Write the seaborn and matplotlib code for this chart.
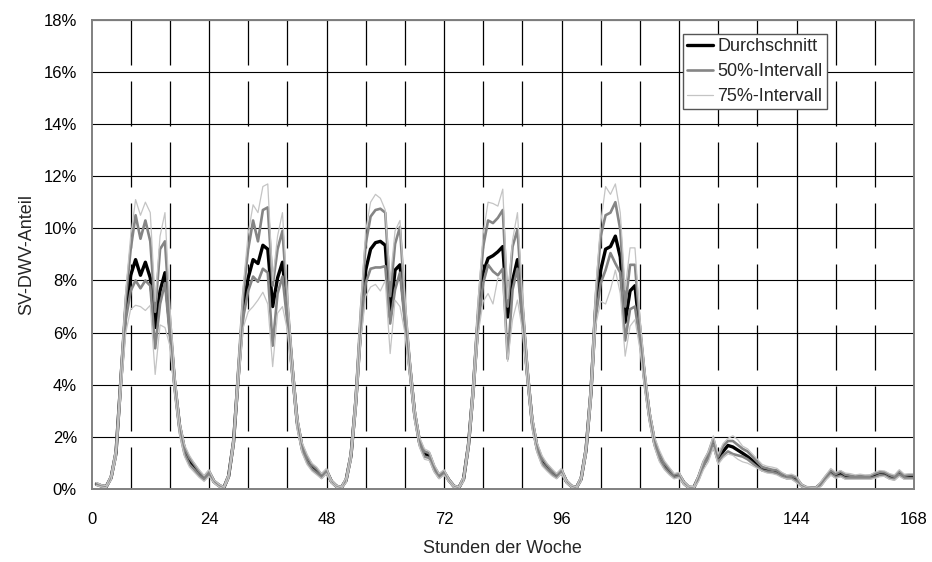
import pandas as pd
import matplotlib.pyplot as plt
import seaborn as sns

sns.set_style("white")
plt.rcParams["font.family"] = ["Liberation Sans", "DejaVu Sans"]

# hour of the week 1..168
hours = list(range(1, 169))

# mean share in % (one row per day, Mo..So)
mean = [
    0.20, 0.13, 0.10, 0.45, 1.4, 4.2, 6.9, 8.2, 8.8, 8.2, 8.7, 8.1, 6.2, 7.6, 8.3, 6.2, 4.0, 2.4, 1.5, 1.1, 0.85, 0.60, 0.42, 0.65,
    0.30, 0.15, 0.05, 0.50, 1.8, 4.4, 7.0, 8.1, 8.8, 8.65, 9.35, 9.2, 7.0, 8.1, 8.7, 6.8, 4.6, 2.6, 1.6, 1.15, 0.85, 0.70, 0.50, 0.70,
    0.30, 0.12, 0.05, 0.35, 1.3, 3.4, 6.3, 8.4, 9.2, 9.45, 9.5, 9.35, 6.6, 8.4, 8.6, 6.7, 4.7, 2.9, 1.8, 1.35, 1.3, 0.80, 0.50, 0.65,
    0.35, 0.12, 0.05, 0.40, 1.7, 3.9, 6.6, 8.3, 8.85, 8.95, 9.1, 9.3, 6.6, 8.0, 8.8, 6.8, 4.5, 2.6, 1.6, 1.1, 0.85, 0.65, 0.50, 0.70,
    0.30, 0.12, 0.05, 0.40, 1.5, 3.7, 7.0, 8.4, 9.2, 9.3, 9.7, 8.9, 6.4, 7.6, 7.8, 6.0, 4.2, 2.8, 1.8, 1.25, 0.90, 0.70, 0.50, 0.55,
    0.25, 0.07, 0.06, 0.45, 0.95, 1.3, 1.75, 1.15, 1.45, 1.68, 1.62, 1.5, 1.38, 1.25, 1.1, 0.93, 0.8, 0.74, 0.7, 0.66, 0.55, 0.47, 0.47, 0.35,
    0.15, 0.06, 0.05, 0.05, 0.2, 0.45, 0.65, 0.52, 0.6, 0.47, 0.47, 0.47, 0.47, 0.47, 0.47, 0.52, 0.6, 0.6, 0.48, 0.42, 0.63, 0.47, 0.47, 0.47,
]

p50_hi = [
    0.23, 0.15, 0.12, 0.50, 1.5, 4.4, 7.3, 9.2, 10.5, 9.6, 10.3, 9.5, 6.8, 9.2, 9.5, 6.6, 4.2, 2.5, 1.6, 1.2, 0.95, 0.68, 0.48, 0.70,
    0.33, 0.18, 0.07, 0.55, 1.9, 4.7, 7.5, 9.2, 10.3, 9.5, 10.7, 10.8, 7.8, 9.2, 9.9, 7.2, 4.8, 2.7, 1.7, 1.25, 0.95, 0.78, 0.56, 0.75,
    0.33, 0.14, 0.07, 0.40, 1.4, 3.6, 6.8, 9.4, 10.45, 10.7, 10.75, 10.6, 7.4, 9.4, 10.05, 7.1, 4.9, 3.0, 1.9, 1.45, 1.38, 0.88, 0.56, 0.70,
    0.38, 0.14, 0.07, 0.45, 1.8, 4.1, 7.0, 9.3, 10.3, 10.2, 10.4, 10.7, 7.0, 9.3, 9.95, 7.2, 4.7, 2.7, 1.7, 1.2, 0.95, 0.72, 0.56, 0.75,
    0.33, 0.14, 0.07, 0.45, 1.6, 3.9, 7.4, 9.7, 10.5, 10.6, 11.0, 9.95, 7.0, 8.6, 8.6, 6.3, 4.4, 2.9, 1.9, 1.35, 1.0, 0.78, 0.56, 0.60,
    0.28, 0.10, 0.08, 0.50, 1.05, 1.4, 1.95, 1.25, 1.65, 1.85, 1.85, 1.7, 1.55, 1.45, 1.25, 1.05, 0.85, 0.8, 0.75, 0.72, 0.6, 0.52, 0.52, 0.45,
    0.18, 0.08, 0.07, 0.07, 0.25, 0.5, 0.72, 0.58, 0.68, 0.55, 0.52, 0.5, 0.52, 0.5, 0.52, 0.6, 0.66, 0.65, 0.55, 0.48, 0.7, 0.52, 0.55, 0.55,
]

p50_lo = [
    0.17, 0.11, 0.08, 0.40, 1.3, 4.0, 6.5, 7.6, 8.0, 7.7, 8.0, 7.8, 5.4, 7.1, 7.9, 5.9, 3.8, 2.2, 1.35, 0.95, 0.75, 0.52, 0.36, 0.58,
    0.27, 0.12, 0.04, 0.45, 1.7, 4.2, 6.6, 7.6, 8.15, 7.95, 8.45, 8.3, 5.5, 7.5, 8.15, 6.4, 4.4, 2.45, 1.5, 1.05, 0.78, 0.62, 0.44, 0.64,
    0.27, 0.10, 0.04, 0.30, 1.2, 3.2, 6.0, 7.9, 8.45, 8.5, 8.5, 8.55, 6.35, 7.65, 8.3, 6.4, 4.5, 2.75, 1.7, 1.25, 1.2, 0.72, 0.44, 0.60,
    0.32, 0.10, 0.04, 0.35, 1.6, 3.7, 6.3, 7.9, 8.6, 8.35, 8.2, 8.45, 5.0, 7.65, 8.45, 6.4, 4.3, 2.45, 1.5, 1.0, 0.78, 0.58, 0.44, 0.64,
    0.27, 0.10, 0.04, 0.35, 1.4, 3.5, 6.6, 7.9, 8.4, 9.05, 8.65, 8.3, 5.7, 6.9, 7.0, 5.7, 4.0, 2.65, 1.7, 1.15, 0.82, 0.62, 0.44, 0.50,
    0.20, 0.05, 0.04, 0.40, 0.9, 1.2, 1.7, 1.05, 1.3, 1.45, 1.35, 1.3, 1.25, 1.15, 1.0, 0.85, 0.72, 0.68, 0.66, 0.6, 0.5, 0.42, 0.42, 0.30,
    0.12, 0.04, 0.03, 0.03, 0.15, 0.4, 0.58, 0.46, 0.52, 0.42, 0.42, 0.42, 0.42, 0.42, 0.42, 0.46, 0.54, 0.52, 0.42, 0.38, 0.56, 0.42, 0.42, 0.42,
]

p75_hi = [
    0.26, 0.17, 0.14, 0.55, 1.6, 4.6, 7.6, 9.7, 11.1, 10.5, 11.0, 10.6, 7.2, 9.7, 10.6, 7.0, 4.4, 2.6, 1.7, 1.3, 1.0, 0.75, 0.52, 0.75,
    0.36, 0.20, 0.09, 0.60, 2.0, 4.9, 7.8, 9.8, 10.9, 10.6, 11.6, 11.7, 8.0, 9.7, 10.6, 7.5, 5.0, 2.85, 1.8, 1.35, 1.0, 0.85, 0.60, 0.80,
    0.36, 0.16, 0.09, 0.45, 1.5, 3.8, 7.1, 9.9, 11.0, 11.3, 11.15, 10.7, 8.0, 9.9, 10.3, 7.4, 5.1, 3.15, 2.0, 1.55, 1.45, 0.95, 0.60, 0.75,
    0.40, 0.16, 0.09, 0.50, 1.9, 4.3, 7.3, 9.8, 11.0, 10.95, 10.85, 11.5, 7.3, 9.55, 10.6, 7.5, 4.9, 2.85, 1.8, 1.3, 1.0, 0.80, 0.60, 0.80,
    0.36, 0.16, 0.09, 0.50, 1.7, 4.1, 7.7, 10.2, 11.6, 11.3, 11.7, 10.6, 7.65, 9.25, 9.25, 6.6, 4.6, 3.05, 2.0, 1.5, 1.1, 0.85, 0.60, 0.65,
    0.30, 0.12, 0.10, 0.55, 1.1, 1.45, 2.05, 1.35, 1.75, 1.95, 2.05, 1.9, 1.65, 1.55, 1.35, 1.15, 0.95, 0.88, 0.85, 0.8, 0.65, 0.55, 0.58, 0.50,
    0.20, 0.10, 0.08, 0.08, 0.3, 0.55, 0.8, 0.65, 0.72, 0.62, 0.6, 0.55, 0.58, 0.55, 0.55, 0.65, 0.72, 0.7, 0.6, 0.55, 0.75, 0.58, 0.6, 0.60,
]

p75_lo = [
    0.15, 0.09, 0.06, 0.35, 1.2, 3.7, 6.0, 6.9, 7.05, 7.0, 6.85, 7.05, 4.4, 6.3, 6.2, 5.5, 3.6, 2.1, 1.25, 0.85, 0.65, 0.45, 0.30, 0.50,
    0.24, 0.10, 0.02, 0.40, 1.6, 4.0, 6.2, 6.8, 7.0, 7.25, 7.55, 7.1, 4.7, 6.75, 7.0, 6.1, 4.2, 2.3, 1.4, 0.95, 0.70, 0.55, 0.40, 0.60,
    0.24, 0.08, 0.02, 0.25, 1.1, 3.0, 5.7, 7.4, 7.75, 7.85, 7.6, 8.0, 5.2, 7.25, 7.0, 6.0, 4.3, 2.6, 1.6, 1.15, 1.1, 0.65, 0.40, 0.55,
    0.28, 0.08, 0.02, 0.30, 1.5, 3.5, 6.0, 7.2, 7.5, 7.1, 8.1, 8.0, 4.9, 6.5, 7.25, 6.1, 4.1, 2.3, 1.4, 0.9, 0.70, 0.52, 0.40, 0.60,
    0.24, 0.08, 0.02, 0.30, 1.3, 3.3, 6.3, 7.2, 7.1, 7.65, 8.4, 7.5, 5.1, 6.25, 6.5, 5.4, 3.8, 2.5, 1.6, 1.05, 0.75, 0.55, 0.40, 0.45,
    0.18, 0.04, 0.03, 0.30, 0.75, 1.05, 1.6, 0.95, 1.2, 1.35, 1.3, 1.15, 1.05, 1.0, 0.9, 0.8, 0.7, 0.62, 0.6, 0.55, 0.45, 0.4, 0.38, 0.25,
    0.10, 0.03, 0.02, 0.02, 0.1, 0.35, 0.55, 0.42, 0.48, 0.38, 0.38, 0.38, 0.38, 0.38, 0.38, 0.42, 0.48, 0.5, 0.38, 0.35, 0.5, 0.38, 0.38, 0.38,
]

x_ticks = [0, 24, 48, 72, 96, 120, 144, 168]
y_ticks = [0, 2, 4, 6, 8, 10, 12, 14, 16, 18]

df = pd.DataFrame({
    "hour": hours,
    "mean": mean,
    "p50_hi": p50_hi,
    "p50_lo": p50_lo,
    "p75_hi": p75_hi,
    "p75_lo": p75_lo,
})

fig = plt.figure(figsize=(9.32, 5.62), dpi=100)
ax = fig.add_axes([0.0982, 0.1294, 0.8825, 0.8359])

# grid: horizontal solid, vertical solid at days, dashed every 8 h
for v in y_ticks[1:]:
    ax.axhline(v, color="black", lw=0.8, zorder=1)
for v in x_ticks[1:-1]:
    ax.axvline(v, color="black", lw=0.9, zorder=1)
minor_x = [h for h in range(8, 168, 8) if h % 24 != 0]
ax.vlines(minor_x, 18, 0, colors="black", lw=0.9,
          linestyles=[(0, (36, 12.8))], zorder=1)

sns.lineplot(data=df, x="hour", y="mean", ax=ax, color="black", lw=2.4,
             zorder=3, label="Durchschnitt")
sns.lineplot(data=df, x="hour", y="p50_hi", ax=ax, color="#858585", lw=1.9,
             zorder=4, label="50%-Intervall")
sns.lineplot(data=df, x="hour", y="p50_lo", ax=ax, color="#858585", lw=1.9,
             zorder=4, label="_nolegend_")
sns.lineplot(data=df, x="hour", y="p75_hi", ax=ax, color="#c4c4c4", lw=0.9,
             zorder=5, label="75%-Intervall")
sns.lineplot(data=df, x="hour", y="p75_lo", ax=ax, color="#c4c4c4", lw=0.9,
             zorder=5, label="_nolegend_")

ax.set_xlim(0, 168)
ax.set_ylim(0, 18)
ax.set_xticks(x_ticks)
ax.set_yticks(y_ticks)
ax.set_yticklabels([f"{v}%" for v in y_ticks])
ax.tick_params(axis="both", direction="out", length=4.5, width=1,
               color="#555555", labelsize=12, labelcolor="black")
ax.tick_params(axis="x", pad=12)
ax.tick_params(axis="y", pad=6)

for side in ["left", "bottom", "top", "right"]:
    ax.spines[side].set_color("#808080")
    ax.spines[side].set_linewidth(1.4)
    ax.spines[side].set_zorder(6)

ax.set_xlabel("Stunden der Woche", fontsize=13, labelpad=9)
ax.set_ylabel("SV-DWV-Anteil", fontsize=13, labelpad=6)

leg = ax.legend(loc="upper left", bbox_to_anchor=(0.7188, 0.969),
                borderaxespad=0, frameon=True, fancybox=False,
                fontsize=13, handlelength=1.45, handletextpad=0.25,
                labelspacing=0.45, borderpad=0.22)
leg.get_frame().set_edgecolor("#555555")
leg.get_frame().set_linewidth(1.0)
leg.get_frame().set_alpha(1)
leg.set_zorder(10)

fig.savefig("out.png", dpi=100)
